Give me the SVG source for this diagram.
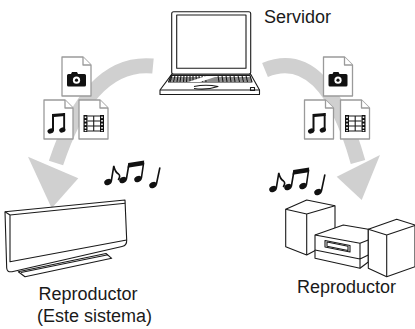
<svg xmlns="http://www.w3.org/2000/svg" xmlns:xlink="http://www.w3.org/1999/xlink" width="415" height="329" viewBox="0 0 415 329">
  <style>
    .flow { fill: none; stroke: #d0d0d0; stroke-width: 15; stroke-linecap: butt; }
    .head { fill: #d0d0d0; }
    .doc { fill: #fff; stroke: #9a9a9a; stroke-width: 1.3; stroke-linejoin: round; }
    .ink { fill: #111; }
    .line { fill: #fff; stroke: #1a1a1a; stroke-width: 1.1; stroke-linejoin: round; }
    .open { fill: none; stroke: #1a1a1a; stroke-width: 1.1; stroke-linejoin: round; }
    .stem { fill: none; stroke: #111; stroke-width: 1.6; stroke-linecap: round; }
    .label { font-family: "Liberation Sans", Arial, sans-serif; font-size: 18px; fill: #1a1a1a; }
  </style>
  <defs>
    <!-- blank page with a folded corner -->
    <g id="page">
      <path class="doc" d="M0,0 H21 L29,8 V39 H0 Z"/>
      <path class="doc" d="M21,0 V8 H29" fill="none"/>
    </g>
    <g id="photo-doc">
      <use xlink:href="#page"/>
      <path class="ink" d="M5,18.5 Q5,17 6.5,17 H9 L10,15 H15 L16,17 H22.5 Q24,17 24,18.5 V28 Q24,29.5 22.5,29.5 H6.5 Q5,29.5 5,28 Z"/>
      <circle cx="14.5" cy="23.2" r="3.6" fill="#fff"/>
      <circle cx="14.5" cy="23.2" r="1.6" class="ink"/>
    </g>
    <g id="music-doc">
      <use xlink:href="#page"/>
      <path class="ink" d="M8,14 L21,13 V16 L10,17 V31 H8 Z"/>
      <rect class="ink" x="19.2" y="13" width="1.9" height="17"/>
      <ellipse class="ink" cx="6.6" cy="31" rx="3.2" ry="2.5" transform="rotate(-20 6.6 31)"/>
      <ellipse class="ink" cx="18.3" cy="30" rx="3.2" ry="2.5" transform="rotate(-20 18.3 30)"/>
    </g>
    <g id="film-doc">
      <use xlink:href="#page"/>
      <rect class="ink" x="4.5" y="15" width="4" height="17"/>
      <rect class="ink" x="21" y="15" width="4" height="17"/>
      <g fill="#fff">
        <rect x="5.7" y="16.5" width="1.6" height="1.6"/><rect x="5.7" y="20" width="1.6" height="1.6"/>
        <rect x="5.7" y="23.5" width="1.6" height="1.6"/><rect x="5.7" y="27" width="1.6" height="1.6"/>
        <rect x="5.7" y="30" width="1.6" height="1.2"/>
        <rect x="22.2" y="16.5" width="1.6" height="1.6"/><rect x="22.2" y="20" width="1.6" height="1.6"/>
        <rect x="22.2" y="23.5" width="1.6" height="1.6"/><rect x="22.2" y="27" width="1.6" height="1.6"/>
        <rect x="22.2" y="30" width="1.6" height="1.2"/>
      </g>
      <path class="open" stroke-width="1.4" d="M8.5,16 H21 M8.5,31 H21 M8.5,21 H21 M8.5,26 H21 M14.7,16 V31"/>
    </g>
    <!-- eighth note, beamed pair and quarter note, origin at the first note head -->
    <g id="notes">
      <ellipse class="ink" cx="0" cy="0" rx="3.9" ry="2.9" transform="rotate(-25)"/>
      <path class="stem" d="M3.3,-1 L5.8,-16 Q7,-10 10.5,-8 Q12.8,-6 10.5,-2.5"/>
      <ellipse class="ink" cx="15" cy="-2" rx="3.9" ry="2.9" transform="rotate(-25 15 -2)"/>
      <ellipse class="ink" cx="30" cy="-3" rx="3.9" ry="2.9" transform="rotate(-25 30 -3)"/>
      <path class="stem" d="M18.4,-3 L20.8,-17 M33.4,-4 L35.6,-19"/>
      <path class="ink" d="M20.2,-19 L36.2,-21.5 L35.6,-16.8 L19.6,-14.3 Z"/>
      <ellipse class="ink" cx="45" cy="3" rx="3.9" ry="2.9" transform="rotate(-25 45 3)"/>
      <path class="stem" d="M48.4,2 L51.8,-14"/>
    </g>
  </defs>

  <!-- transfer arcs -->
  <g id="connectors">
    <path class="flow" d="M153,66 Q90,60 56,163"/>
    <polygon class="head" points="28,156.7 78.3,178.3 51.7,208.3"/>
    <path class="flow" d="M265,70 Q325,45 358,162"/>
    <polygon class="head" points="336.7,176.7 380,155 361.7,200"/>
  </g>

  <!-- server laptop -->
  <g id="server">
    <rect class="line" x="171.7" y="11.7" width="79" height="62.6" rx="2"/>
    <rect class="line" x="176.7" y="15" width="69.3" height="53.3"/>
    <path class="line" d="M171.7,74.3 H250.7 L259.5,90 V94.5 H160 V90 Z"/>
    <path class="open" d="M160,90 H259.5"/>
    <!-- keyboard -->
    <path class="open" d="M171,75.5 H250 L252,82 H168.5 Z" stroke-width="0.9"/>
    <path class="open" stroke-width="0.8" d="M170,78 H251 M169,80 H251.5
      M172,75.5 L170,82 M175,75.5 L173.5,82 M178,75.5 L177,82 M181,75.5 L180,82 M184,75.5 L183.5,82
      M187,75.5 L186.5,82 M190,75.5 L190,82 M193,75.5 L193,82 M196,75.5 L196.5,82 M199,75.5 L199.5,82
      M202,75.5 L202.5,82 M205,75.5 L206,82 M218,75.5 L219,82 M222,75.5 L223,82 M226,75.5 L227,82
      M230,75.5 L231,82 M234,75.5 L235,82 M238,75.5 L239.5,82 M242,75.5 L243.5,82 M246,75.5 L247.5,82"/>
    <path d="M206,76 L218,76 L200,82 H188 Z" fill="#fff"/>
    <path class="open" d="M194,86.5 Q206,84 218,86.5 Q206,90.5 194,88.5" stroke-width="0.9"/>
    <rect class="open" x="250.5" y="87.5" width="4" height="3" stroke-width="0.9"/>
    <text class="label" x="264" y="23" font-size="16.5">Servidor</text>
  </g>

  <!-- media files on each side -->
  <g id="files-left">
    <use xlink:href="#photo-doc" x="62" y="57"/>
    <use xlink:href="#music-doc" x="44" y="100"/>
    <use xlink:href="#film-doc" x="79" y="100"/>
  </g>
  <g id="files-right">
    <use xlink:href="#photo-doc" x="323.5" y="57"/>
    <use xlink:href="#music-doc" x="304.5" y="100"/>
    <use xlink:href="#film-doc" x="340.5" y="100"/>
  </g>

  <!-- this system: wall-style unit on a stand -->
  <g id="player-this-system">
    <use xlink:href="#notes" x="108" y="182"/>
    <path class="line" d="M18.3,271.7 L25,276.7 L111.7,258.3 L106,253.5 Z"/>
    <path class="open" d="M21,272.5 L108,254.8"/>
    <path class="line" d="M5,211.7 L125,200 L126.7,240 Q127,245.5 122,246.5 L12,271.7 Q7,272.5 6.7,268 Z"/>
    <path class="open" d="M10,215 L125.2,203.2 M10,215 V261.7 L126.7,240 M5,211.7 L10,215"/>
    <text class="label" x="38.5" y="299.5">Reproductor</text>
    <text class="label" x="37" y="322">(Este sistema)</text>
  </g>

  <!-- mini hi-fi player -->
  <g id="player-hifi">
    <use xlink:href="#notes" x="273" y="189"/>
    <!-- left speaker -->
    <path class="line" d="M285.7,209.3 L306.7,200 L335,205.7 V240 L306.7,255 L285.7,246.7 Z"/>
    <path class="open" d="M285.7,209.3 L306.7,214 L335,205.7 M306.7,214 V255"/>
    <!-- centre unit -->
    <path class="line" d="M315,235 L343.3,225 L368.3,229.3 V262 L360,268.3 L315,258.3 Z"/>
    <path class="open" d="M315,235 L360,243.3 L368.3,240 M360,243.3 V268.3 M315,250 L360,259 L368.3,255"/>
    <path class="open" d="M325,240.5 L350,245.5 V252 L325,247 Z"/>
    <path class="open" d="M327,242 L348,246.3 V250.5 L327,246.3 Z" stroke-width="0.8"/>
    <!-- right speaker -->
    <path class="line" d="M368.3,229.3 L396.7,219.3 L415,225 V266.7 L386.7,276.7 L368.3,268.3 Z"/>
    <path class="open" d="M368.3,229.3 L386.7,235 L415,225.5 M386.7,235 V276.7"/>
    <text class="label" x="297" y="293">Reproductor</text>
  </g>
</svg>
